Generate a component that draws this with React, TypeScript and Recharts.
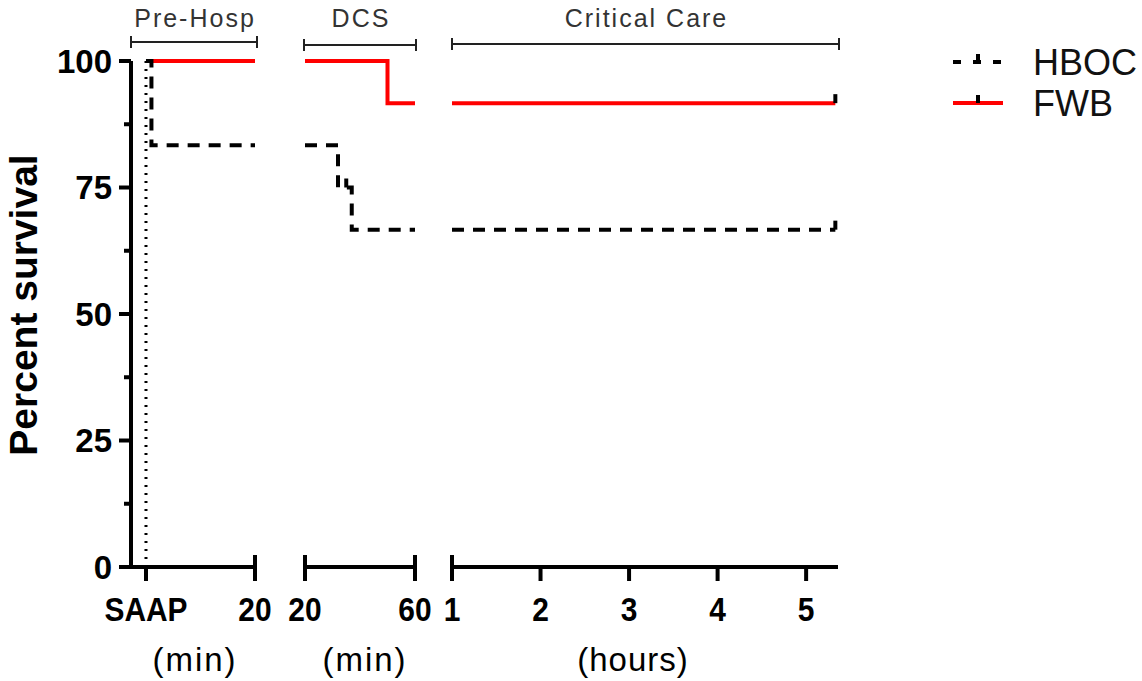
import React from "react";
import { ComposedChart, Line, XAxis, YAxis, ReferenceLine } from "recharts";

const yTicks = [0, 12.5, 25, 37.5, 50, 62.5, 75, 87.5, 100];
const yMajor = [0, 25, 50, 75, 100];

// Pre-Hosp (min from SAAP)
const preTicks = [0, 20];
const preHbocT = [0, 1, 20];
const preHbocS = [100, 83.33, 83.33];
const preFwbT = [0, 20];
const preFwbS = [100, 100];

// DCS (min)
const dcsTicks = [20, 60];
const dcsHbocT = [20, 32, 35, 37, 60];
const dcsHbocS = [83.33, 75, 75, 66.67, 66.67];
const dcsHbocCensor = [35];
const dcsFwbT = [20, 50, 60];
const dcsFwbS = [100, 91.67, 91.67];

// Critical Care (hours)
const ccTicks = [1, 2, 3, 4, 5];
const ccHbocT = [1, 5.33];
const ccHbocS = [66.67, 66.67];
const ccFwbT = [1, 5.33];
const ccFwbS = [91.67, 91.67];
const ccCensor = [5.33];

const FONT = "'Liberation Sans', Arial, sans-serif";
const AXIS_Y = 567;
const PLOT_TOP = 61;
const H = 681;

type Pt = { t: number; s: number; c: boolean };
const pts = (t: number[], s: number[], censor: number[] = []): Pt[] =>
  t.map((v, i) => ({ t: v, s: s[i], c: censor.includes(v) }));

const censorDot = (p: any) =>
  p.payload && p.payload.c ? (
    <line key={`c-${p.index}`} x1={p.cx} x2={p.cx} y1={p.cy} y2={p.cy - 9} stroke="#000" strokeWidth={4} />
  ) : (
    <g key={`n-${p.index}`} />
  );

const YTick = (props: any) => {
  const { x, y, payload } = props;
  const major = yMajor.includes(payload.value);
  return (
    <g>
      <line x1={x} x2={x - (major ? 12 : 7)} y1={y} y2={y} stroke="#000" strokeWidth={4} />
      {major && (
        <text x={x - 19} y={y} textAnchor="end" dominantBaseline="central" fontFamily={FONT} fontWeight="bold" fontSize={33} fill="#000">
          {payload.value}
        </text>
      )}
    </g>
  );
};

const makeXTick = (caps: number[], fmt: (v: number) => string) => (props: any) => {
  const { x, payload } = props;
  const cap = caps.includes(payload.value);
  return (
    <g>
      <line x1={x} x2={x} y1={AXIS_Y - (cap ? 12 : 0)} y2={AXIS_Y + 14} stroke="#000" strokeWidth={4} />
      <text
        transform={`translate(${x},${AXIS_Y + 54}) scale(0.88,1)`}
        textAnchor="middle"
        fontFamily={FONT}
        fontWeight="bold"
        fontSize={34}
        fill="#000"
      >
        {fmt(payload.value)}
      </text>
    </g>
  );
};

type SegProps = {
  plotLeft: number;
  plotRight: number;
  domain: [number, number];
  ticks: number[];
  caps: number[];
  fmt: (v: number) => string;
  hboc: Pt[];
  fwb: Pt[];
  showY?: boolean;
  refX?: number;
};

function Segment({ plotLeft, plotRight, domain, ticks, caps, fmt, hboc, fwb, showY, refX }: SegProps) {
  const padL = showY ? plotLeft : 20;
  const left = plotLeft - padL;
  const width = plotRight - left + 20;
  return (
    <div style={{ position: "absolute", left, top: 0 }}>
      <ComposedChart width={width} height={H} margin={{ top: PLOT_TOP, right: 20, bottom: 0, left: showY ? 0 : 20 }}>
        <XAxis
          type="number"
          dataKey="t"
          domain={domain}
          ticks={ticks}
          interval={0}
          allowDataOverflow
          height={H - AXIS_Y}
          axisLine={{ stroke: "#000", strokeWidth: 4 }}
          tickLine={false}
          tickSize={0}
          tickMargin={0}
          tick={makeXTick(caps, fmt)}
        />
        <YAxis
          type="number"
          domain={[0, 100]}
          ticks={yTicks}
          interval={0}
          hide={!showY}
          width={showY ? plotLeft : 0}
          axisLine={{ stroke: "#000", strokeWidth: 4 }}
          tickLine={false}
          tickSize={0}
          tickMargin={0}
          tick={<YTick />}
        />
        {refX !== undefined && (
          <ReferenceLine x={refX} stroke="#000" strokeWidth={3} strokeDasharray="2 6" />
        )}
        <Line
          data={fwb}
          dataKey="s"
          type="stepAfter"
          stroke="#ff0000"
          strokeWidth={4}
          dot={censorDot}
          activeDot={false}
          isAnimationActive={false}
        />
        <Line
          data={hboc}
          dataKey="s"
          type="stepAfter"
          stroke="#000"
          strokeWidth={4}
          strokeDasharray="12 9"
          dot={censorDot}
          activeDot={false}
          isAnimationActive={false}
        />
      </ComposedChart>
    </div>
  );
}

function Bracket({ x1, x2, y, label }: { x1: number; x2: number; y: number; label: string }) {
  return (
    <g>
      <line x1={x1} x2={x2} y1={y} y2={y} stroke="#222" strokeWidth={2} />
      <line x1={x1} x2={x1} y1={y - 6} y2={y + 6} stroke="#222" strokeWidth={2} />
      <line x1={x2} x2={x2} y1={y - 6} y2={y + 6} stroke="#222" strokeWidth={2} />
      <text x={(x1 + x2) / 2 + 1} y={27} textAnchor="middle" fontFamily={FONT} fontSize={25} letterSpacing={2} fill="#333">
        {label}
      </text>
    </g>
  );
}

export default function App() {
  return (
    <div style={{ position: "absolute", left: 0, top: 0, width: 1142, height: H, background: "#fff", overflow: "hidden" }}>
      <Segment
        plotLeft={131}
        plotRight={255}
        domain={[-2.75, 20]}
        ticks={preTicks}
        caps={[20]}
        fmt={(v) => (v === 0 ? "SAAP" : String(v))}
        hboc={pts(preHbocT, preHbocS)}
        fwb={pts(preFwbT, preFwbS)}
        showY
        refX={0}
      />
      <Segment
        plotLeft={305}
        plotRight={415}
        domain={[20, 60]}
        ticks={dcsTicks}
        caps={[20, 60]}
        fmt={String}
        hboc={pts(dcsHbocT, dcsHbocS, dcsHbocCensor)}
        fwb={pts(dcsFwbT, dcsFwbS)}
      />
      <Segment
        plotLeft={452}
        plotRight={838}
        domain={[1, 5.36]}
        ticks={ccTicks}
        caps={[1]}
        fmt={String}
        hboc={pts(ccHbocT, ccHbocS, ccCensor)}
        fwb={pts(ccFwbT, ccFwbS, ccCensor)}
      />
      <svg width={1142} height={H} style={{ position: "absolute", left: 0, top: 0, pointerEvents: "none" }}>
        <Bracket x1={131} x2={257} y={42} label="Pre-Hosp" />
        <Bracket x1={304} x2={416} y={45} label="DCS" />
        <Bracket x1={452} x2={839} y={44} label="Critical Care" />
        <text transform="translate(37,305) rotate(-90)" textAnchor="middle" fontFamily={FONT} fontWeight="bold" fontSize={39} fill="#000">
          Percent survival
        </text>
        <text x={195} y={671} textAnchor="middle" fontFamily={FONT} fontSize={33} letterSpacing={2} fill="#000">(min)</text>
        <text x={365} y={671} textAnchor="middle" fontFamily={FONT} fontSize={33} letterSpacing={2} fill="#000">(min)</text>
        <text x={633} y={671} textAnchor="middle" fontFamily={FONT} fontSize={33} letterSpacing={1} fill="#000">(hours)</text>
        <line x1={953} x2={1003} y1={62} y2={62} stroke="#000" strokeWidth={4} strokeDasharray="8 12" />
        <line x1={978} x2={978} y1={62} y2={54} stroke="#000" strokeWidth={4} />
        <text x={1033} y={75} fontFamily={FONT} fontSize={36} fill="#111">HBOC</text>
        <line x1={953} x2={1003} y1={103} y2={103} stroke="#ff0000" strokeWidth={4} />
        <line x1={978} x2={978} y1={103} y2={95} stroke="#000" strokeWidth={4} />
        <text x={1033} y={116} fontFamily={FONT} fontSize={36} fill="#111">FWB</text>
      </svg>
    </div>
  );
}
